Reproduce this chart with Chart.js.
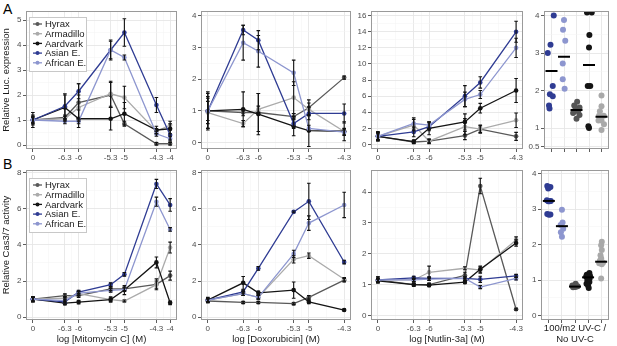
<!DOCTYPE html>
<html>
<head>
<meta charset="utf-8">
<script src="https://cdn.jsdelivr.net/npm/chart.js@4.4.1/dist/chart.umd.min.js"></script>
<style>
  body { margin: 0; background: #fff; }
  #fig { position: relative; width: 617px; height: 346px; overflow: hidden; background: #fff;
         font-family: "Liberation Sans", Arial, sans-serif; }
  #fig canvas { position: absolute; }
  .tag { position: absolute; font-size: 14px; line-height: 1; color: #000; }
</style>
</head>
<body>
<div id="fig">
  <div class="tag" style="left:3px; top:2px;">A</div>
  <div class="tag" style="left:3px; top:157px;">B</div>
  <canvas id="a1"></canvas>
  <canvas id="a2"></canvas>
  <canvas id="a3"></canvas>
  <canvas id="a4"></canvas>
  <canvas id="b1"></canvas>
  <canvas id="b2"></canvas>
  <canvas id="b3"></canvas>
  <canvas id="b4"></canvas>
</div>
<script>
// series order: Hyrax, Armadillo, Aardvark, Asian E., African E.
const speciesNames = ["Hyrax", "Armadillo", "Aardvark", "Asian E.", "African E."];
const mitoDoses = [-7, -6.3, -6, -5.3, -5, -4.3, -4];
const mitoDoseLabels = ["0", "-6.3", "-6", "-5.3", "-5", "-4.3", "-4"];
const drugDoses = [-7, -6.3, -6, -5.3, -5, -4.3];
const drugDoseLabels = ["0", "-6.3", "-6", "-5.3", "-5", "-4.3"];

// A: relative luciferase expression
const lucMito = [
  [1.0, 1.1, 1.7, 2.0, 0.85, 0.05, 0.05],
  [1.0, 1.05, 1.5, 2.05, 1.9, 0.55, 0.8],
  [1.0, 1.5, 1.05, 1.05, 1.25, 0.6, 0.65],
  [1.0, 1.55, 2.15, 3.8, 4.5, 1.6, 0.4],
  [1.0, 0.95, 0.95, 3.8, 3.5, 0.45, 0.25]
];
const lucMitoErr = [
  [0.1, 0.1, 0.75, 0.5, 0.1, 0.05, 0.05],
  [0.15, 0.1, 0.5, 0.5, 0.45, 0.1, 0.15],
  [0.3, 0.5, 0.35, 0.45, 0.45, 0.15, 0.2],
  [0.2, 0.5, 0.3, 0.4, 0.55, 0.3, 0.2],
  [0.15, 0.1, 0.1, 0.35, 0.1, 0.1, 0.1]
];
const lucDoxo = [
  [1.0, 0.95, 0.95, 0.82, 1.1, 2.05],
  [0.95, 0.6, 1.05, 1.42, 1.05, 0.35],
  [1.0, 1.05, 0.9, 0.52, 0.38, 0.36],
  [1.0, 3.55, 3.23, 0.6, 0.92, 0.92],
  [1.0, 3.15, 2.88, 2.2, 0.45, 0.33]
];
const lucDoxoErr = [
  [0.4, 0.1, 0.6, 0.1, 0.25, 0.05],
  [0.5, 0.1, 0.1, 0.5, 0.2, 0.1],
  [0.6, 0.55, 0.65, 0.3, 0.5, 0.3],
  [0.55, 0.15, 0.3, 0.15, 0.2, 0.3],
  [0.3, 0.55, 0.5, 0.4, 0.1, 0.1]
];
const lucNutlin = [
  [1.0, 0.3, 0.4, 1.1, 1.9, 1.0],
  [1.0, 2.4, 0.4, 2.2, 1.9, 3.0],
  [1.0, 0.35, 2.0, 2.8, 4.5, 6.7],
  [1.0, 1.55, 2.2, 6.0, 7.7, 14.0],
  [1.0, 2.6, 2.4, 5.6, 6.2, 12.0]
];
const lucNutlinErr = [
  [0.4, 0.2, 0.2, 0.5, 0.4, 0.5],
  [0.5, 0.7, 0.3, 1.0, 0.5, 0.9],
  [0.6, 0.2, 0.8, 1.0, 0.6, 1.5],
  [0.5, 0.6, 0.5, 1.3, 0.7, 1.3],
  [0.4, 0.7, 0.4, 0.9, 0.5, 1.2]
];

// B: relative Cas3/7 activity
const casMito = [
  [1.0, 1.2, 1.2, 1.57, 1.57, 1.82, 2.3],
  [1.0, 1.05, 1.3, 0.97, 0.9, 1.8, 3.85],
  [1.0, 0.78, 0.84, 0.98, 1.5, 3.03, 0.8],
  [1.0, 0.85, 1.39, 1.8, 2.37, 7.36, 6.2],
  [1.0, 0.92, 1.33, 1.48, 1.52, 6.38, 4.85]
];
const casMitoErr = [
  [0.1, 0.1, 0.1, 0.1, 0.1, 0.3, 0.25],
  [0.1, 0.1, 0.1, 0.1, 0.05, 0.2, 0.3],
  [0.15, 0.1, 0.1, 0.15, 0.25, 0.3, 0.1],
  [0.15, 0.1, 0.1, 0.1, 0.1, 0.25, 0.35],
  [0.1, 0.1, 0.1, 0.1, 0.1, 0.25, 0.1]
];
const casDoxo = [
  [0.9, 0.82, 0.82, 0.75, 1.1, 2.05],
  [0.95, 1.3, 1.1, 3.2, 3.4, 2.1],
  [0.95, 1.9, 1.35, 1.5, 0.85, 0.4],
  [0.95, 1.4, 2.7, 5.82, 6.4, 3.05],
  [0.95, 1.3, 1.1, 3.5, 5.2, 6.2]
];
const casDoxoErr = [
  [0.1, 0.05, 0.05, 0.05, 0.1, 0.1],
  [0.1, 0.1, 0.1, 0.2, 0.15, 0.1],
  [0.15, 0.35, 0.1, 0.45, 0.1, 0.05],
  [0.1, 0.1, 0.1, 0.05, 1.0, 0.1],
  [0.1, 0.1, 0.1, 0.2, 0.4, 0.7]
];
const casNutlin = [
  [1.15, 1.0, 1.0, 1.3, 4.2, 0.2],
  [1.15, 1.15, 1.4, 1.53, 1.47, 2.45],
  [1.12, 1.0, 0.98, 1.08, 1.5, 2.35],
  [1.15, 1.22, 1.2, 1.2, 1.17, 1.28],
  [1.15, 1.15, 1.18, 1.2, 0.92, 1.2]
];
const casNutlinErr = [
  [0.1, 0.05, 0.05, 0.1, 0.25, 0.03],
  [0.1, 0.05, 0.2, 0.05, 0.1, 0.1],
  [0.05, 0.05, 0.05, 0.05, 0.1, 0.1],
  [0.05, 0.05, 0.05, 0.05, 0.1, 0.05],
  [0.05, 0.05, 0.05, 0.05, 0.05, 0.05]
];

// UV-C strip plots, group order: Asian E., African E., Hyrax, Aardvark, Armadillo
const uvGroups = ["Asian E.", "African E.", "Hyrax", "Aardvark", "Armadillo"];
const uvLuc = [
  [4.0, 3.22, 3.0, 2.12, 1.9, 1.85, 1.6, 1.52],
  [3.88, 3.62, 3.33, 2.72, 2.3, 2.05],
  [1.7, 1.6, 1.55, 1.5, 1.45, 1.4, 1.35, 1.25],
  [4.08, 4.08, 3.48, 3.15, 2.12, 2.12, 1.05, 1.0],
  [1.87, 1.58, 1.45, 1.33, 1.33, 1.2, 1.2, 1.1, 0.95]
];
const uvLucMid = [2.52, 2.9, 1.48, 2.68, 1.3];
const uvLucJitter = [
  [0.18, -0.08, -0.3, 0.1, -0.13, 0.1, -0.2, -0.16],
  [0.0, -0.08, 0.1, -0.1, -0.1, 0.05],
  [0.05, -0.18, 0.24, -0.08, 0.13, -0.27, 0.24, 0.0],
  [-0.16, 0.22, 0.03, 0.0, -0.1, 0.1, -0.05, 0.0],
  [0.0, 0.0, -0.13, -0.2, 0.18, -0.24, 0.0, 0.2, 0.0]
];
const uvCas = [
  [3.65, 3.62, 3.6, 3.58, 3.25, 3.23, 3.22, 3.22, 2.86, 2.85, 2.84],
  [2.98, 2.62, 2.55, 2.45, 2.35, 2.22],
  [0.9, 0.85, 0.83, 0.82, 0.82, 0.81, 0.8],
  [1.2, 1.15, 1.12, 1.1, 1.08, 1.05, 1.0, 0.95, 0.9, 0.85, 0.78],
  [2.08, 1.98, 1.85, 1.7, 1.62, 1.55, 1.5, 1.48, 1.45, 1.05]
];
const uvCasMid = [3.23, 2.52, 0.82, 1.08, 1.52];
const uvCasJitter = [
  [-0.12, 0.12, 0.0, -0.05, -0.15, 0.15, 0.05, -0.05, -0.12, 0.12, 0.0],
  [0.0, 0.05, -0.1, 0.1, -0.08, 0.0],
  [0.05, -0.2, 0.2, -0.1, 0.1, 0.0, -0.15],
  [0.1, -0.1, 0.15, -0.15, 0.0, 0.12, -0.05, 0.1, -0.12, 0.0, 0.05],
  [0.05, 0.0, 0.05, -0.05, 0.0, -0.1, 0.15, -0.15, 0.05, 0.0]
];

// y breaks per panel
const lucMitoTicks = [0, 1, 2, 3, 4, 5];
const lucDoxoTicks = [0, 1, 2, 3, 4];
const lucNutlinTicks = [0, 2, 4, 6, 8, 10, 12, 14, 16];
const uvLucTicks = [0.5, 1, 2, 3, 4];
const casTicks = [0, 2, 4, 6, 8];
const casNutlinTicks = [0, 1, 2, 3, 4];
const uvCasTicks = [0, 1, 2, 3, 4];

// styles
const seriesColors = ["#595959", "#ababab", "#141414", "#2f3c93", "#8d96cf"];
const groupColors = ["#2f3c93", "#8d96cf", "#555555", "#141414", "#a9a9a9"];

Chart.defaults.font.family = "'Liberation Sans', Arial, sans-serif";
Chart.defaults.color = "#4d4d4d";

function near(list, v) {
  return list.findIndex(t => Math.abs(t - v) < 1e-6);
}

function midpoints(list) {
  const m = [];
  for (let i = 1; i < list.length; i++) m.push((list[i - 1] + list[i]) / 2);
  return m;
}

function tickBuilder(major, withMinor) {
  return scale => {
    const all = withMinor ? major.concat(midpoints(major)) : major.slice();
    scale.ticks = all
      .filter(v => v >= scale.min - 1e-9 && v <= scale.max + 1e-9)
      .sort((a, b) => a - b)
      .map(v => ({ value: v }));
  };
}

function gridFor(major) {
  const isMajor = c => c.tick && near(major, c.tick.value) >= 0;
  return {
    color: c => isMajor(c) ? "#e6e6e6" : "#f2f2f2",
    lineWidth: c => isMajor(c) ? 0.9 : 0.5,
    tickColor: c => isMajor(c) ? "#333" : "rgba(0,0,0,0)",
    tickLength: 3,
    tickWidth: 0.8
  };
}

const errorBars = {
  id: "errorBars",
  afterDatasetsDraw(chart) {
    const { ctx, chartArea: a, scales } = chart;
    ctx.save();
    ctx.beginPath();
    ctx.rect(a.left, a.top, a.right - a.left, a.bottom - a.top);
    ctx.clip();
    ctx.strokeStyle = "#111";
    ctx.lineWidth = 1.1;
    chart.data.datasets.forEach(ds => {
      if (!ds.err) return;
      ds.data.forEach((p, j) => {
        const px = scales.x.getPixelForValue(p.x);
        const lo = scales.y.getPixelForValue(p.y - ds.err[j]);
        const hi = scales.y.getPixelForValue(p.y + ds.err[j]);
        ctx.beginPath();
        ctx.moveTo(px, lo); ctx.lineTo(px, hi);
        ctx.moveTo(px - 1.8, lo); ctx.lineTo(px + 1.8, lo);
        ctx.moveTo(px - 1.8, hi); ctx.lineTo(px + 1.8, hi);
        ctx.stroke();
      });
    });
    ctx.restore();
  }
};

const panelBorder = {
  id: "panelBorder",
  afterDraw(chart) {
    const { ctx, chartArea: a } = chart;
    ctx.save();
    ctx.strokeStyle = "#9a9a9a";
    ctx.lineWidth = 1;
    ctx.strokeRect(Math.round(a.left) + 0.5, Math.round(a.top) + 0.5,
      Math.round(a.right - a.left) - 1, Math.round(a.bottom - a.top) - 1);
    ctx.restore();
  }
};

// ggplot style key drawn inside the panel
const speciesKey = {
  id: "speciesKey",
  afterDraw(chart, args, opts) {
    if (!opts.show) return;
    const { ctx, chartArea: a } = chart;
    const left = a.left + 3, top = a.top + opts.dy;
    ctx.save();
    ctx.fillStyle = "#fff";
    ctx.strokeStyle = "#c8c8c8";
    ctx.lineWidth = 1;
    ctx.fillRect(left, top, 58, 55);
    ctx.strokeRect(left + 0.5, top + 0.5, 57, 54);
    ctx.font = "9.5px 'Liberation Sans', Arial, sans-serif";
    ctx.textBaseline = "middle";
    chart.data.datasets.forEach((ds, i) => {
      const y = top + 7 + i * 9.7;
      ctx.strokeStyle = ds.borderColor;
      ctx.lineWidth = 1.3;
      ctx.beginPath();
      ctx.moveTo(left + 4, y); ctx.lineTo(left + 13, y);
      ctx.stroke();
      ctx.fillStyle = ds.borderColor;
      ctx.beginPath();
      ctx.arc(left + 8.5, y, 2, 0, Math.PI * 2);
      ctx.fill();
      ctx.fillStyle = "#1a1a1a";
      ctx.fillText(ds.label, left + 16, y + 0.5);
    });
    ctx.restore();
  }
};

function place(cv, g) {
  const w = g.yW + (g.right - g.left) + g.padR;
  const h = 10 + (g.bottom - g.top) + g.xH;
  cv.width = w; cv.height = h;
  cv.style.left = (g.left - g.yW) + "px";
  cv.style.top = (g.top - 10) + "px";
  cv.style.width = w + "px";
  cv.style.height = h + "px";
}

function yScale(g, range, major, title) {
  return {
    type: "linear", min: range[0], max: range[1],
    afterBuildTicks: tickBuilder(major, true),
    afterFit: s => { s.width = g.yW; },
    grid: gridFor(major),
    border: { display: false },
    ticks: {
      autoSkip: false, padding: 1.5, color: "#4d4d4d", font: { size: 8 },
      callback: v => near(major, v) >= 0 ? String(v) : ""
    },
    title: title
      ? { display: true, text: title, color: "#1a1a1a", font: { size: 9.5 }, padding: { top: 1, bottom: 0 } }
      : { display: false }
  };
}

function linePanel(id, g, doses, doseLabels, values, errors, yRange, yMajor, opts) {
  const cv = document.getElementById(id);
  place(cv, g);
  const pad = (doses[doses.length - 1] - doses[0]) * 0.05;
  const datasets = values.map((vals, i) => ({
    label: speciesNames[i],
    data: vals.map((v, j) => ({ x: doses[j], y: v })),
    err: errors[i],
    borderColor: seriesColors[i],
    backgroundColor: seriesColors[i],
    borderWidth: 1.3,
    pointRadius: 2.3,
    pointBorderWidth: 0,
    pointBackgroundColor: seriesColors[i],
    order: values.length - i
  }));
  new Chart(cv, {
    type: "line",
    data: { datasets },
    options: {
      responsive: false, animation: false, events: [],
      layout: { padding: { top: 10, right: g.padR, left: 0, bottom: 0 } },
      plugins: {
        legend: { display: false }, tooltip: { enabled: false },
        speciesKey: { show: !!opts.key, dy: opts.keyDy || 6 }
      },
      scales: {
        x: {
          type: "linear", min: doses[0] - pad, max: doses[doses.length - 1] + pad,
          afterBuildTicks: tickBuilder(doses, true),
          afterFit: s => { s.height = g.xH; },
          grid: gridFor(doses),
          border: { display: false },
          ticks: {
            autoSkip: false, maxRotation: 0, padding: 1, color: "#4d4d4d", font: { size: 8 },
            callback: v => { const k = near(doses, v); return k >= 0 ? doseLabels[k] : ""; }
          },
          title: opts.xTitle
            ? { display: true, text: opts.xTitle, color: "#1a1a1a", font: { size: 9.5 }, padding: { top: 0, bottom: 1 } }
            : { display: false }
        },
        y: yScale(g, yRange, yMajor, opts.yTitle)
      }
    },
    plugins: [errorBars, panelBorder, speciesKey]
  });
}

function dotPanel(id, g, groups, jitter, mids, yRange, yMajor, xTitle) {
  const cv = document.getElementById(id);
  place(cv, g);
  const positions = uvGroups.map((n, k) => k + 1);
  const datasets = groups.map((vals, k) => ({
    label: uvGroups[k],
    data: vals.map((v, j) => ({ x: positions[k] + jitter[k][j], y: v })),
    pointRadius: 3,
    pointBorderWidth: 0,
    pointBackgroundColor: groupColors[k],
    backgroundColor: groupColors[k]
  }));
  datasets.unshift({
    label: "middle",
    data: mids.map((m, k) => ({ x: positions[k], y: m })),
    pointStyle: "line",
    pointRadius: 6,
    pointBorderWidth: 2,
    pointBorderColor: "#000",
    pointBackgroundColor: "#000"
  });
  new Chart(cv, {
    type: "scatter",
    data: { datasets },
    options: {
      responsive: false, animation: false, events: [],
      layout: { padding: { top: 10, right: g.padR, left: 0, bottom: 0 } },
      plugins: { legend: { display: false }, tooltip: { enabled: false } },
      scales: {
        x: {
          type: "linear", min: 0.4, max: uvGroups.length + 0.6,
          afterBuildTicks: tickBuilder(positions, false),
          afterFit: s => { s.height = g.xH; },
          grid: gridFor(positions),
          border: { display: false },
          ticks: { autoSkip: false, maxRotation: 0, padding: 1, font: { size: 8 }, callback: () => "" },
          title: xTitle
            ? { display: true, text: xTitle, color: "#1a1a1a", font: { size: 9.5 }, padding: { top: 0, bottom: 1 } }
            : { display: false }
        },
        y: yScale(g, yRange, yMajor, null)
      }
    },
    plugins: [panelBorder]
  });
}

const rowA = { top: 11, bottom: 149, xH: 12 };
const rowB = { top: 170, bottom: 320, xH: 26 };
function geom(row, left, right, yW) {
  return { top: row.top, bottom: row.bottom, xH: row.xH, left, right, yW, padR: 3 };
}

linePanel("a1", geom(rowA, 26, 178, 26), mitoDoses, mitoDoseLabels, lucMito, lucMitoErr,
  [-0.16, 5.36], lucMitoTicks, { key: true, keyDy: 6, yTitle: "Relative Luc. expression" });
linePanel("a2", geom(rowA, 201, 352, 16), drugDoses, drugDoseLabels, lucDoxo, lucDoxoErr,
  [-0.2, 4.15], lucDoxoTicks, {});
linePanel("a3", geom(rowA, 371, 524, 17), drugDoses, drugDoseLabels, lucNutlin, lucNutlinErr,
  [-0.57, 16.58], lucNutlinTicks, {});
dotPanel("a4", geom(rowA, 544, 614, 17), uvLuc, uvLucJitter, uvLucMid, [0.44, 4.12], uvLucTicks, null);

linePanel("b1", geom(rowB, 26, 178, 26), mitoDoses, mitoDoseLabels, casMito, casMitoErr,
  [-0.15, 8.13], casTicks, { key: true, keyDy: 8, yTitle: "Relative Cas3/7 activity", xTitle: "log [Mitomycin C] (M)" });
linePanel("b2", geom(rowB, 201, 352, 16), drugDoses, drugDoseLabels, casDoxo, casDoxoErr,
  [-0.15, 8.13], casTicks, { xTitle: "log [Doxorubicin] (M)" });
linePanel("b3", geom(rowB, 371, 524, 17), drugDoses, drugDoseLabels, casNutlin, casNutlinErr,
  [-0.15, 4.72], casNutlinTicks, { xTitle: "log [Nutlin-3a] (M)" });
dotPanel("b4", geom(rowB, 541, 614, 13), uvCas, uvCasJitter, uvCasMid, [-0.12, 4.1], uvCasTicks,
  ["100/m2 UV-C /", "No UV-C"]);
</script>
</body>
</html>
